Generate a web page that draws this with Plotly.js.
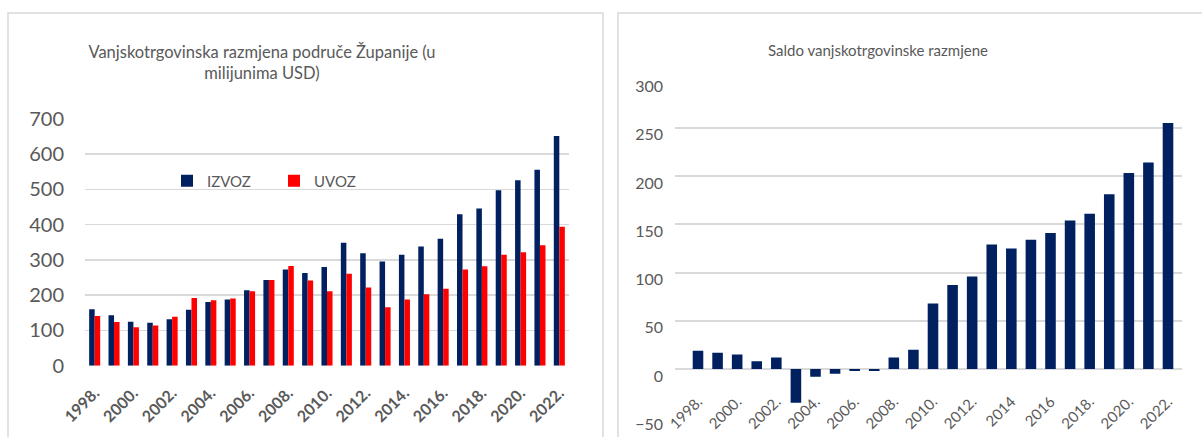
<!DOCTYPE html>
<html>
<head>
<meta charset="utf-8">
<script src="https://cdn.plot.ly/plotly-3.0.1.min.js"></script>
<style>html,body{margin:0;padding:0;background:#fff;}#chart{width:1202px;height:437px;}</style>
</head>
<body>
<div id="chart"></div>
<script>
// ---- data ----
const years = ["1998.","1999.","2000.","2001.","2002.","2003.","2004.","2005.","2006.","2007.","2008.","2009.","2010.","2011.","2012.","2013.","2014.","2015.","2016.","2017.","2018.","2019.","2020.","2021.","2022."];
const izvoz = [160,143,125,122,132,159,181,188,214,243,273,263,280,349,319,296,315,338,360,430,446,498,526,556,652];
const uvoz  = [141,124,109,114,139,192,186,191,211,243,283,242,211,261,222,166,188,203,218,273,282,315,322,342,394];
const saldo = [19,17,15,8,12,-35,-8,-5,-2,-2,12,20,68,87,96,129,125,134,141,154,161,181,203,214,255];
const leftTickVals = ["1998.","2000.","2002.","2004.","2006.","2008.","2010.","2012.","2014.","2016.","2018.","2020.","2022."];
const leftTickText = ["1998.","2000.","2002.","2004.","2006.","2008.","2010.","2012.","2014.","2016.","2018.","2020.","2022."];
const rightTickText = ["1998.","2000.","2002.","2004.","2006.","2008.","2010.","2012.","2014","2016","2018.","2020.","2022."];
const seriesNames = ["IZVOZ","UVOZ"];
const titleLeft = "Vanjskotrgovinska razmjena područe Županije (u<br>milijunima USD)";
const titleRight = "Saldo vanjskotrgovinske razmjene";

// ---- layout helpers ----
const W = 1202, H = 437;
const px = x => x / W;
const py = y => 1 - y / H;
const FONT = "Lato, 'Open Sans', sans-serif";
const GRAY = "#595959";
const GRID = "#d9d9d9";
const NAVY = "#002060";
const RED = "#ff0000";

const traces = [
  {type:"bar", x:years, y:izvoz, name:seriesNames[0], marker:{color:NAVY}, xaxis:"x", yaxis:"y"},
  {type:"bar", x:years, y:uvoz, name:seriesNames[1], marker:{color:RED}, xaxis:"x", yaxis:"y"},
  {type:"bar", x:years, y:saldo, name:"Saldo", width:0.54, marker:{color:NAVY}, xaxis:"x2", yaxis:"y2", showlegend:false}
];

const layout = {
  width: W, height: H,
  margin: {l:0, r:0, t:0, b:0, pad:0},
  paper_bgcolor: "#fff", plot_bgcolor: "rgba(0,0,0,0)",
  font: {family: FONT, color: GRAY},
  barmode: "group", bargap: 0.43, bargroupgap: 0,
  showlegend: true,
  legend: {orientation:"h", x: px(167), xanchor:"left", y: py(181), yanchor:"middle",
           font:{size:15, color:GRAY, family:FONT}, bgcolor:"rgba(0,0,0,0)", entrywidth:62, itemwidth:30,
           tracegroupgap:0},
  title: {text: titleLeft, x: px(262), xanchor:"center", xref:"paper", y: py(58), yref:"paper", yanchor:"middle",
          font:{size:16.5, color:GRAY, family:FONT}},
  xaxis: {domain:[px(85), px(569)], anchor:"y", type:"category", tickvals:leftTickVals, ticktext:leftTickText,
          tickangle:-45, ticks:"", showgrid:false, showline:false, zeroline:false, automargin:false,
          tickfont:{size:16, color:GRAY, family:FONT, weight:"bold"}, ticklabelstandoff:14},
  yaxis: {domain:[py(365.7), py(119)], anchor:"x", range:[0,700], dtick:100, showgrid:true, gridcolor:GRID, gridwidth:1.5,
          zeroline:false, showline:false, ticks:"", automargin:false,
          tickfont:{size:20, color:GRAY, family:FONT}, ticklabelstandoff:20},
  xaxis2: {domain:[px(675), px(1182)], anchor:"free", position: py(389), type:"category", range:[-1.174, 24.715],
           tickvals:leftTickVals, ticktext:rightTickText, tickangle:-45, ticks:"", showgrid:false, showline:false,
           zeroline:false, automargin:false, tickfont:{size:15, color:GRAY, family:FONT}},
  yaxis2: {domain:[py(417.3), py(79.5)], anchor:"x2", range:[-50,300], dtick:50, showgrid:true, gridcolor:GRID, gridwidth:2,
           zeroline:false, showline:false, ticks:"", automargin:false,
           tickfont:{size:16, color:GRAY, family:FONT}, ticklabelstandoff:11, ticklabelshift:7},
  annotations: [
    {text:titleRight, xref:"paper", yref:"paper", x:px(878), y:py(50), xanchor:"center", yanchor:"middle",
     showarrow:false, font:{size:15, color:GRAY, family:FONT}}
  ],
  shapes: [
    {type:"rect", xref:"paper", yref:"paper", x0:px(8), x1:px(603), y0:py(450), y1:py(13), line:{color:GRID, width:1.5}, layer:"below"},
    {type:"rect", xref:"paper", yref:"paper", x0:px(618), x1:px(1215), y0:py(450), y1:py(13), line:{color:GRID, width:1.5}, layer:"below"}
  ]
};

Plotly.newPlot("chart", traces, layout, {displayModeBar:false, staticPlot:true});
</script>
</body>
</html>
